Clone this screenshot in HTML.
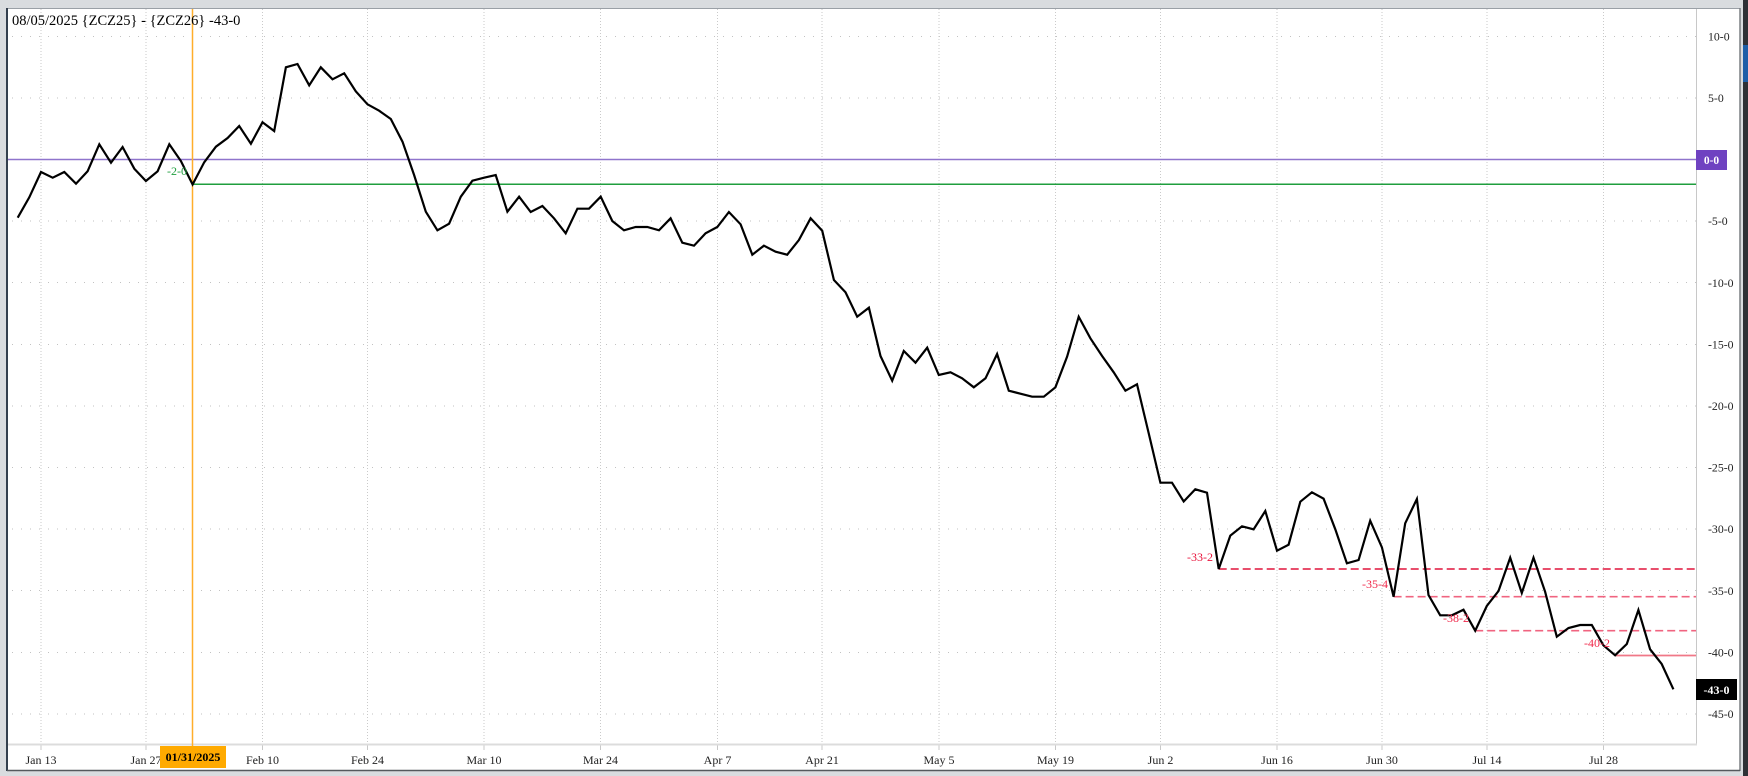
<!DOCTYPE html>
<html><head><meta charset="utf-8"><style>
html,body{margin:0;padding:0;background:#d9dcdf;}
svg{display:block;}
text{font-family:"Liberation Serif",serif;}
</style></head><body>
<svg width="1748" height="776" viewBox="0 0 1748 776" xmlns="http://www.w3.org/2000/svg">
<rect x="0" y="0" width="1748" height="776" fill="#d9dcdf"/>
<!-- right side other window strip -->
<rect x="1743" y="0" width="5" height="776" fill="#2e3136"/>
<rect x="1743" y="45" width="5" height="37" fill="#1d5ea8"/>
<!-- panel -->
<rect x="7" y="8" width="1733" height="763" fill="#ffffff"/>
<line x1="7" y1="8.5" x2="1740" y2="8.5" stroke="#9aa0a6" stroke-width="1"/>
<line x1="7" y1="8" x2="7" y2="771" stroke="#34404e" stroke-width="2"/>
<line x1="1740" y1="8" x2="1740" y2="771" stroke="#7a7e82" stroke-width="1.5"/>
<line x1="7" y1="770.5" x2="1740" y2="770.5" stroke="#55595d" stroke-width="1.5"/>

<!-- horizontal grid -->
<g stroke="#c2c2c2" stroke-width="1" stroke-dasharray="1,8">
<line x1="12" y1="36.5" x2="1696" y2="36.5"/>
<line x1="12" y1="98" x2="1696" y2="98"/>
<line x1="12" y1="221" x2="1696" y2="221"/>
<line x1="12" y1="282.5" x2="1696" y2="282.5"/>
<line x1="12" y1="344.5" x2="1696" y2="344.5"/>
<line x1="12" y1="406" x2="1696" y2="406"/>
<line x1="12" y1="467.5" x2="1696" y2="467.5"/>
<line x1="12" y1="529" x2="1696" y2="529"/>
<line x1="12" y1="590.5" x2="1696" y2="590.5"/>
<line x1="12" y1="652.5" x2="1696" y2="652.5"/>
<line x1="12" y1="714" x2="1696" y2="714"/>
</g>
<!-- vertical grid -->
<g stroke="#cacaca" stroke-width="1" stroke-dasharray="1,2">
<line x1="41" y1="9" x2="41" y2="744"/>
<line x1="146" y1="9" x2="146" y2="744"/>
<line x1="262.5" y1="9" x2="262.5" y2="744"/>
<line x1="367.5" y1="9" x2="367.5" y2="744"/>
<line x1="484" y1="9" x2="484" y2="744"/>
<line x1="600.5" y1="9" x2="600.5" y2="744"/>
<line x1="717.5" y1="9" x2="717.5" y2="744"/>
<line x1="822" y1="9" x2="822" y2="744"/>
<line x1="939" y1="9" x2="939" y2="744"/>
<line x1="1055.5" y1="9" x2="1055.5" y2="744"/>
<line x1="1160.5" y1="9" x2="1160.5" y2="744"/>
<line x1="1277" y1="9" x2="1277" y2="744"/>
<line x1="1382" y1="9" x2="1382" y2="744"/>
<line x1="1487" y1="9" x2="1487" y2="744"/>
<line x1="1603.5" y1="9" x2="1603.5" y2="744"/>
</g>
<!-- ticks -->
<g stroke="#c8c8c8" stroke-width="1">
<line x1="41" y1="745" x2="41" y2="750"/>
<line x1="146" y1="745" x2="146" y2="750"/>
<line x1="262.5" y1="745" x2="262.5" y2="750"/>
<line x1="367.5" y1="745" x2="367.5" y2="750"/>
<line x1="484" y1="745" x2="484" y2="750"/>
<line x1="600.5" y1="745" x2="600.5" y2="750"/>
<line x1="717.5" y1="745" x2="717.5" y2="750"/>
<line x1="822" y1="745" x2="822" y2="750"/>
<line x1="939" y1="745" x2="939" y2="750"/>
<line x1="1055.5" y1="745" x2="1055.5" y2="750"/>
<line x1="1160.5" y1="745" x2="1160.5" y2="750"/>
<line x1="1277" y1="745" x2="1277" y2="750"/>
<line x1="1382" y1="745" x2="1382" y2="750"/>
<line x1="1487" y1="745" x2="1487" y2="750"/>
<line x1="1603.5" y1="745" x2="1603.5" y2="750"/>
</g>
<!-- axes -->
<line x1="1696.5" y1="9" x2="1696.5" y2="745" stroke="#c8c8c8" stroke-width="1"/>
<line x1="8" y1="744.5" x2="1697" y2="744.5" stroke="#dcdcdc" stroke-width="2"/>

<!-- purple zero line -->
<line x1="8" y1="159.5" x2="1696" y2="159.5" stroke="#8f74cc" stroke-width="1.6"/>
<!-- green line -->
<line x1="192.6" y1="184.2" x2="1696" y2="184.2" stroke="#1f9e3e" stroke-width="1.5"/>
<!-- orange vertical -->
<line x1="192.5" y1="9" x2="192.5" y2="746" stroke="#ffae2a" stroke-width="1.5"/>

<!-- red lines -->
<line x1="1218.7" y1="569" x2="1696" y2="569" stroke="#e0143c" stroke-width="1.6" stroke-dasharray="8,4"/>
<line x1="1393.6" y1="596.7" x2="1696" y2="596.7" stroke="#f06480" stroke-width="1.6" stroke-dasharray="8,4"/>
<line x1="1475.2" y1="630.7" x2="1696" y2="630.7" stroke="#f06480" stroke-width="1.6" stroke-dasharray="8,4"/>
<line x1="1615.1" y1="655.5" x2="1696" y2="655.5" stroke="#f07888" stroke-width="1.8"/>

<!-- series -->
<polyline fill="none" stroke="#000" stroke-width="2.2" stroke-linejoin="miter" points="17.7,217.7 29.3,197.3 41,172 52.7,177.7 64.3,172 76,183.7 87.6,171.3 99.3,144.3 111,162.7 122.6,147 134.3,168.7 145.9,181 157.6,171.3 169.3,144.3 180.9,161 192.6,184.5 204.2,162.3 215.9,146.7 227.6,138 239.2,126 250.9,143.7 262.5,122.3 274.2,131 285.9,67.3 297.5,64 309.2,85.3 320.8,67.3 332.5,79.3 344.2,73.3 355.8,91.3 367.5,104.3 379.1,110.7 390.8,119 402.5,141.7 414.1,175 425.8,211.7 437.4,230.3 449.1,223.7 460.8,196.7 472.4,180.7 484.1,177.7 495.7,175 507.4,211.7 519.1,196.7 530.7,212 542.4,206 554,218.3 565.7,233.3 577.4,208.7 589,208.7 600.7,196.7 612.3,221 624,230.3 635.7,227 647.3,227 659,230.3 670.6,218.3 682.3,242.7 694,245.7 705.6,233.3 717.3,227 728.9,212 740.6,224.3 752.3,254.7 763.9,245.7 775.6,251.7 787.2,254.7 798.9,240 810.6,218.3 822.2,230.7 833.9,280 845.5,292.3 857.2,316.7 868.9,307.7 880.5,356 892.2,380.7 903.8,351 915.5,362.7 927.2,347.7 938.8,375 950.5,372.3 962.1,378.3 973.8,387.3 985.5,378.3 997.1,354 1008.8,390.7 1020.4,393.7 1032.1,396.7 1043.8,396.7 1055.4,387.3 1067.1,356.7 1078.7,316.7 1090.4,338.3 1102.1,356 1113.7,372.3 1125.4,390.7 1137,384.3 1148.7,433.3 1160.4,482.7 1172,482.7 1183.7,501.5 1195.3,489.3 1207,492.7 1218.7,569 1230.3,535.7 1242,526.3 1253.6,529.3 1265.3,511 1277,550.7 1288.6,544.7 1300.3,501.7 1311.9,492.3 1323.6,498.7 1335.3,529.3 1346.9,563.3 1358.6,560 1370.2,520.7 1381.9,547.3 1393.6,596.7 1405.2,523.3 1416.9,499 1428.5,595 1440.2,615.3 1451.9,615.3 1463.5,609.7 1475.2,630.7 1486.8,606 1498.5,591 1510.2,557.7 1521.8,593 1533.5,557.7 1545.1,591.7 1556.8,636.7 1568.5,628 1580.1,625 1591.8,625 1603.4,645.3 1615.1,655.3 1626.8,644 1638.4,610 1650.1,649.3 1661.7,664 1673.4,689.3"/>

<!-- level labels -->
<g font-size="12" text-anchor="end">
<text x="187" y="175" fill="#1f9e3e">-2-0</text>
<text x="1213" y="561" fill="#e8143c">-33-2</text>
<text x="1388" y="588" fill="#f0284a">-35-4</text>
<text x="1469" y="622" fill="#f0284a">-38-2</text>
<text x="1610" y="647" fill="#f0284a">-40-2</text>
</g>

<!-- title -->
<text x="12" y="25" font-size="14.5" fill="#000">08/05/2025 {ZCZ25} - {ZCZ26} -43-0</text>

<!-- y axis labels -->
<g font-size="11.8" fill="#222">
<text x="1708" y="40.5">10-0</text>
<text x="1708" y="102">5-0</text>
<text x="1708" y="225">-5-0</text>
<text x="1708" y="287">-10-0</text>
<text x="1708" y="348.5">-15-0</text>
<text x="1708" y="410">-20-0</text>
<text x="1708" y="471.5">-25-0</text>
<text x="1708" y="533">-30-0</text>
<text x="1708" y="595">-35-0</text>
<text x="1708" y="656.5">-40-0</text>
<text x="1708" y="718">-45-0</text>
</g>
<rect x="1696" y="150" width="31" height="20" fill="#6f42c1"/>
<text x="1711.5" y="164" font-size="11.5" font-weight="bold" fill="#fff" text-anchor="middle">0-0</text>
<rect x="1696" y="679" width="41" height="21" fill="#000"/>
<text x="1716.5" y="694" font-size="12" font-weight="bold" fill="#fff" text-anchor="middle">-43-0</text>

<!-- date labels -->
<g font-size="12" fill="#222" text-anchor="middle">
<text x="41" y="764">Jan 13</text>
<text x="146" y="764">Jan 27</text>
<text x="262.5" y="764">Feb 10</text>
<text x="367.5" y="764">Feb 24</text>
<text x="484" y="764">Mar 10</text>
<text x="600.5" y="764">Mar 24</text>
<text x="717.5" y="764">Apr 7</text>
<text x="822" y="764">Apr 21</text>
<text x="939" y="764">May 5</text>
<text x="1055.5" y="764">May 19</text>
<text x="1160.5" y="764">Jun 2</text>
<text x="1277" y="764">Jun 16</text>
<text x="1382" y="764">Jun 30</text>
<text x="1487" y="764">Jul 14</text>
<text x="1603.5" y="764">Jul 28</text>
</g>
<rect x="160" y="746" width="66" height="22" fill="#ffaa00"/>
<text x="193" y="761" font-size="12" font-weight="bold" fill="#000" text-anchor="middle">01/31/2025</text>
</svg>
</body></html>
